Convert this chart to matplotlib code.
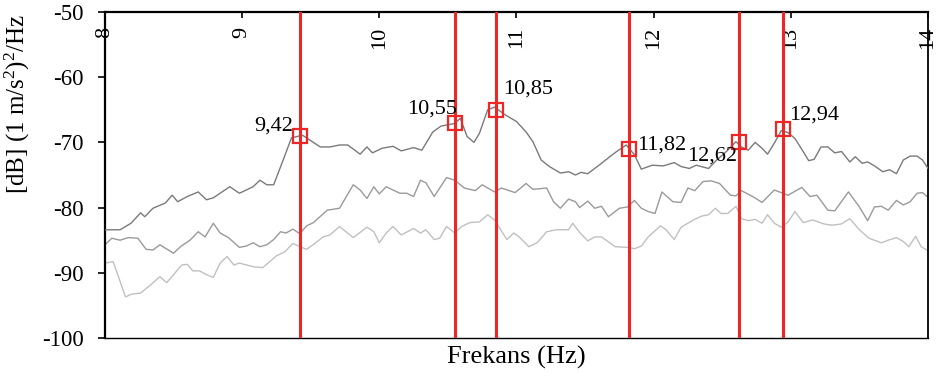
import matplotlib
matplotlib.use("Agg")
import matplotlib.pyplot as plt

plt.rcParams['font.family'] = ['Liberation Serif', 'DejaVu Serif']
plt.rcParams['axes.unicode_minus'] = False
plt.rcParams['mathtext.fontset'] = 'custom'
plt.rcParams['mathtext.rm'] = 'Liberation Serif'
plt.rcParams['mathtext.it'] = 'Liberation Serif:italic'
plt.rcParams['mathtext.bf'] = 'Liberation Serif:bold'
plt.rcParams['mathtext.default'] = 'regular'

# ---- data ----
freq_top = [8.00, 8.11, 8.19, 8.26, 8.29, 8.35, 8.44, 8.49, 8.53, 8.60, 8.68, 8.74, 8.79, 8.91,
            8.98, 9.08, 9.13, 9.18, 9.23, 9.29, 9.36, 9.44, 9.57, 9.64, 9.71, 9.77, 9.86, 9.91,
            9.95, 10.02, 10.10, 10.16, 10.25, 10.31, 10.39, 10.45, 10.50, 10.55, 10.59, 10.64,
            10.69, 10.73, 10.79, 10.84, 10.92, 11.00, 11.07, 11.12, 11.18, 11.24, 11.32, 11.38,
            11.43, 11.47, 11.52, 11.57, 11.62, 11.68, 11.73, 11.80, 11.86, 11.91, 11.99, 12.07,
            12.15, 12.20, 12.26, 12.31, 12.40, 12.46, 12.53, 12.60, 12.64, 12.69, 12.74, 12.79,
            12.83, 12.88, 12.93, 12.98, 13.03, 13.09, 13.13, 13.17, 13.22, 13.27, 13.32, 13.37,
            13.43, 13.47, 13.52, 13.56, 13.61, 13.67, 13.72, 13.77, 13.82, 13.87, 13.92, 13.96,
            14.00]
db_top = [-83.4, -83.4, -82.4, -80.8, -81.4, -80.1, -79.3, -78.1, -79.1, -78.3, -77.6, -78.8,
          -78.5, -76.8, -77.8, -76.8, -75.8, -76.5, -76.5, -73.2, -69.3, -68.9, -70.7, -70.7,
          -70.4, -70.4, -71.8, -70.7, -71.6, -70.9, -70.6, -71.3, -70.8, -71.2, -68.4, -67.5,
          -67.3, -67.1, -66.3, -69.1, -70.0, -68.6, -65.0, -64.6, -65.8, -66.8, -68.4, -69.9,
          -72.7, -73.7, -74.7, -74.5, -75.0, -74.6, -74.8, -74.0, -73.2, -72.2, -71.4, -70.4,
          -71.9, -74.1, -73.5, -73.6, -73.1, -73.7, -74.0, -73.5, -74.0, -72.7, -71.4, -69.9,
          -70.7, -71.2, -70.0, -70.9, -71.8, -70.1, -68.2, -68.5, -69.4, -71.4, -72.8, -72.6,
          -70.7, -70.7, -71.6, -71.4, -73.0, -72.2, -73.2, -73.0, -73.6, -74.5, -74.2, -74.8,
          -72.7, -72.1, -72.1, -72.7, -74.0]

freq_mid = [8.00, 8.05, 8.11, 8.17, 8.24, 8.30, 8.35, 8.40, 8.50, 8.55, 8.62, 8.68, 8.73, 8.79,
            8.84, 8.90, 8.98, 9.03, 9.08, 9.13, 9.18, 9.23, 9.28, 9.32, 9.37, 9.42, 9.47, 9.52,
            9.62, 9.71, 9.81, 9.86, 9.91, 9.96, 10.00, 10.05, 10.15, 10.20, 10.25, 10.30, 10.34,
            10.40, 10.49, 10.55, 10.62, 10.70, 10.75, 10.84, 10.89, 10.99, 11.07, 11.12, 11.22,
            11.27, 11.32, 11.38, 11.43, 11.46, 11.52, 11.57, 11.62, 11.67, 11.75, 11.81, 11.86,
            11.91, 11.96, 12.01, 12.06, 12.14, 12.20, 12.25, 12.30, 12.36, 12.42, 12.48, 12.56,
            12.60, 12.64, 12.73, 12.79, 12.88, 12.98, 13.08, 13.14, 13.19, 13.27, 13.32, 13.42,
            13.50, 13.56, 13.61, 13.66, 13.71, 13.77, 13.82, 13.87, 13.92, 13.96, 14.00]
db_mid = [-85.7, -84.7, -85.0, -84.6, -84.7, -86.4, -86.5, -85.7, -87.0, -86.0, -85.0, -83.7,
          -84.5, -82.4, -83.9, -84.6, -86.1, -85.9, -85.4, -86.0, -85.7, -84.9, -83.7, -83.9,
          -83.3, -84.0, -82.8, -82.3, -80.4, -80.1, -76.5, -77.3, -78.6, -76.8, -77.9, -76.8,
          -77.8, -77.8, -78.3, -75.8, -76.2, -78.3, -75.4, -75.8, -77.0, -77.4, -76.5, -77.6,
          -77.0, -77.7, -76.3, -77.2, -77.0, -79.1, -80.1, -78.7, -79.1, -80.0, -79.0, -80.1,
          -79.8, -81.4, -80.1, -79.9, -78.9, -80.1, -80.6, -80.9, -77.6, -79.1, -79.2, -77.0,
          -77.4, -76.0, -75.9, -76.3, -78.1, -78.2, -77.4, -78.4, -79.2, -77.3, -78.1, -76.9,
          -78.3, -78.1, -80.4, -80.5, -77.6, -79.9, -82.0, -79.9, -79.8, -80.4, -78.9, -79.6,
          -79.1, -77.8, -77.7, -78.4]

freq_low = [8.00, 8.06, 8.15, 8.19, 8.26, 8.33, 8.40, 8.45, 8.50, 8.56, 8.60, 8.64, 8.69, 8.74,
            8.79, 8.84, 8.89, 8.94, 8.98, 9.03, 9.09, 9.15, 9.20, 9.25, 9.31, 9.37, 9.42, 9.47,
            9.53, 9.59, 9.64, 9.71, 9.81, 9.91, 9.96, 10.00, 10.05, 10.10, 10.16, 10.25, 10.30,
            10.34, 10.40, 10.44, 10.49, 10.55, 10.60, 10.66, 10.73, 10.79, 10.84, 10.93, 10.98,
            11.02, 11.09, 11.15, 11.22, 11.29, 11.38, 11.41, 11.46, 11.52, 11.57, 11.62, 11.72,
            11.81, 11.86, 11.91, 11.96, 12.05, 12.09, 12.15, 12.20, 12.29, 12.35, 12.40, 12.45,
            12.49, 12.54, 12.60, 12.64, 12.69, 12.74, 12.79, 12.83, 12.88, 12.93, 12.98, 13.03,
            13.09, 13.16, 13.24, 13.30, 13.37, 13.43, 13.50, 13.57, 13.66, 13.71, 13.77, 13.82,
            13.86, 13.91, 13.95, 14.00]
db_low = [-88.5, -88.3, -93.7, -93.3, -93.1, -91.9, -90.6, -91.5, -90.3, -88.8, -88.7, -89.7,
          -89.7, -90.3, -90.7, -88.5, -87.5, -88.8, -88.5, -88.8, -89.1, -89.2, -88.3, -87.4,
          -86.8, -85.5, -86.0, -86.4, -85.5, -84.5, -84.2, -82.9, -84.6, -83.0, -83.7, -85.4,
          -83.9, -82.9, -84.2, -83.2, -83.9, -83.4, -84.9, -84.7, -82.9, -83.9, -82.9, -82.3,
          -82.2, -81.1, -81.9, -84.9, -83.9, -84.5, -86.0, -85.4, -83.7, -83.4, -83.4, -82.4,
          -83.8, -85.1, -84.5, -84.5, -86.0, -86.1, -86.3, -85.9, -84.5, -82.8, -83.4, -84.9,
          -83.0, -81.9, -81.3, -81.1, -80.1, -80.9, -80.9, -79.8, -81.7, -82.0, -81.8, -82.4,
          -81.1, -82.4, -83.0, -82.2, -80.6, -82.3, -81.9, -82.5, -82.7, -82.5, -81.7, -83.4,
          -84.7, -85.4, -85.0, -84.6, -85.2, -86.0, -84.4, -86.0, -86.6]

peak_freq = [9.42, 10.55, 10.85, 11.82, 12.62, 12.94]
peak_db = [-69, -67, -65, -71, -70, -68]
peak_labels = ['9,42', '10,55', '10,85', '11,82', '12,62', '12,94']
# label placement (offset in points, horizontal alignment)
label_offsets = [(-5, 3.6, 'right'), (2, 7, 'right'), (5, 11.5, 'left'),
                 (6, -0.7, 'left'), (-1.5, -13, 'right'), (5, 7, 'left')]

x_ticks = [8, 9, 10, 11, 12, 13, 14]
y_ticks = [-100, -90, -80, -70, -60, -50]

# ---- figure ----
fig = plt.figure(figsize=(9.43, 3.78), dpi=100)
ax = fig.add_axes([0.1113, 0.1058, 0.8728, 0.8625])

ax.plot(freq_low, db_low, color='#c0c0c0', lw=1.0, zorder=2)
ax.plot(freq_mid, db_mid, color='#9a9a9a', lw=1.0, zorder=2)
ax.plot(freq_top, db_top, color='#7a7a7a', lw=1.0, zorder=3)

for f in peak_freq:
    ax.axvline(f, color='#ee2626', lw=2.2, zorder=4)

ax.plot(peak_freq, peak_db, ls='none', marker='s', ms=10, mfc='none',
        mec='#ee2626', mew=1.6, zorder=5)

for f, d, lab, (dx, dy, ha) in zip(peak_freq, peak_db, peak_labels, label_offsets):
    ax.annotate(lab, (f, d), xytext=(dx, dy), textcoords='offset points',
                ha=ha, va='baseline', fontsize=16, color='black', zorder=6)

ax.set_xlim(8, 14)
ax.set_ylim(-100, -50)
ax.set_xticks(x_ticks)
ax.set_xticklabels([str(t) for t in x_ticks])
ax.set_yticks(y_ticks)
ax.set_yticklabels([str(t) for t in y_ticks])

ax.xaxis.tick_top()
ax.tick_params(axis='x', which='major', direction='in', length=4.5, width=1.2,
               pad=-10.5, labelsize=16, labelrotation=90, colors='black')
for lab in ax.get_xticklabels():
    lab.set_va('top')
    lab.set_ha('center')
ax.tick_params(axis='y', which='major', direction='out', length=5, width=1.2,
               pad=10.5, labelsize=16.5)

for side in ['top', 'left']:
    ax.spines[side].set_linewidth(1.6)
ax.spines['right'].set_linewidth(1.3)
ax.spines['bottom'].set_linewidth(1.0)
for s in ax.spines.values():
    s.set_color('black')

ax.set_xlabel('Frekans (Hz)', fontsize=19)
ax.xaxis.set_label_position('bottom')
ax.xaxis.set_label_coords(0.5, -0.025)
ax.set_ylabel('[dB] (1 m/s$^{2}$)$^{2}$/Hz', fontsize=18)
ax.yaxis.set_label_coords(-0.0887, 0.718)

fig.savefig('out.png', dpi=100)
